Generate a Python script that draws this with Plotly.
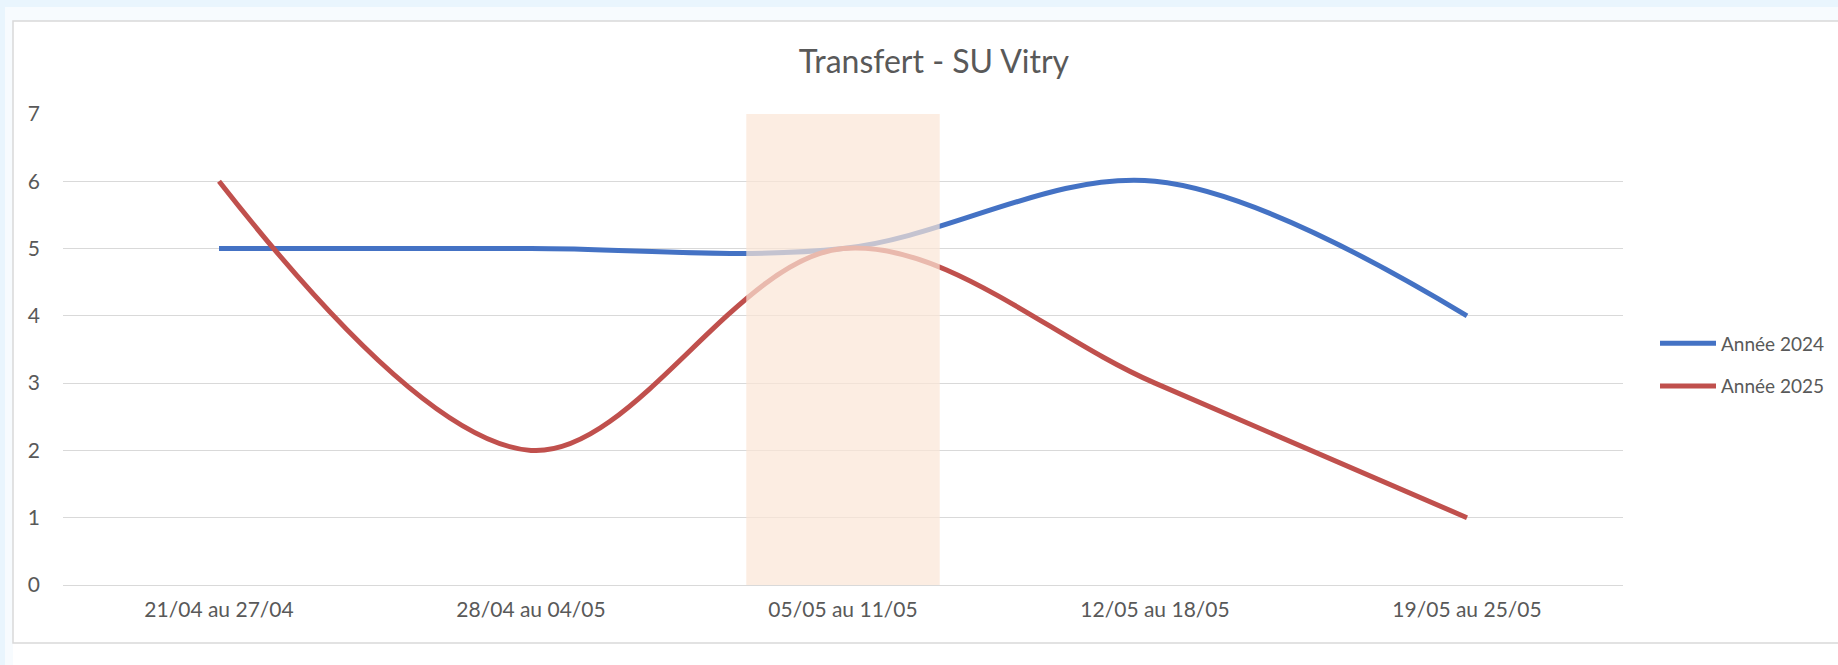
import plotly.graph_objects as go

# Weekly transfer counts
semaines = ["21/04 au 27/04", "28/04 au 04/05", "05/05 au 11/05", "12/05 au 18/05", "19/05 au 25/05"]
annee_2024 = [5, 5, 5, 6, 4]
annee_2025 = [6, 2, 5, 3, 1]

# Highlighted week span (category index units) and value axis
zone_x = [1.69, 2.31]
y_ticks = [0, 1, 2, 3, 4, 5, 6, 7]

W, H = 1838, 665
L, R, T, B = 63, 215, 114, 80
PW = W - L - R
PH = H - T - B


def px(x):
    return (x - L) / PW


def py(y):
    return (H - B - y) / PH


FONT = "Lato"
GREY = "#595959"
GRID = "#D9D9D9"

fig = go.Figure()
fig.add_trace(go.Scatter(
    x=semaines, y=annee_2024, name="Année 2024", mode="lines", legendgroup="a2024",
    line=dict(color="#4472C4", width=5, shape="spline", smoothing=1),
))
fig.add_trace(go.Scatter(
    x=semaines, y=annee_2025, name="Année 2025", mode="lines", legendgroup="a2025",
    line=dict(color="#C0504D", width=5, shape="spline", smoothing=1),
))

shapes = [
    # page background bands
    dict(type="rect", xref="paper", yref="paper", x0=px(0), x1=px(W + 5), y0=py(-5), y1=py(7),
         fillcolor="#E9F5FD", line=dict(width=0), layer="below"),
    dict(type="rect", xref="paper", yref="paper", x0=px(-5), x1=px(5), y0=py(H + 5), y1=py(0),
         fillcolor="#E9F5FD", line=dict(width=0), layer="below"),
    dict(type="rect", xref="paper", yref="paper", x0=px(5), x1=px(W + 5), y0=py(21), y1=py(7),
         fillcolor="#F7FBFE", line=dict(width=0), layer="below"),
    dict(type="rect", xref="paper", yref="paper", x0=px(5), x1=px(13), y0=py(H + 5), y1=py(7),
         fillcolor="#F7FBFE", line=dict(width=0), layer="below"),
    # chart card
    dict(type="rect", xref="paper", yref="paper", x0=px(13), x1=px(W + 10), y0=py(643), y1=py(21),
         fillcolor="white", line=dict(color=GRID, width=1.5), layer="below"),
    # highlighted week
    dict(type="rect", xref="x", yref="y", x0=zone_x[0], x1=zone_x[1], y0=-0.05, y1=7,
         fillcolor="#FBE5D6", opacity=0.7, line=dict(width=0), layer="above"),
]

fig.update_layout(
    width=W, height=H,
    margin=dict(l=L, r=R, t=T, b=B, autoexpand=False),
    paper_bgcolor="white",
    plot_bgcolor="rgba(0,0,0,0)",
    font=dict(family=FONT, color=GREY),
    title=dict(
        text="Transfert - SU Vitry",
        font=dict(family=FONT, size=32, color=GREY),
        xref="container", yref="container",
        x=934 / W, xanchor="center",
        y=1 - 62 / H, yanchor="middle",
    ),
    xaxis=dict(
        type="category",
        range=[-0.5, 4.5],
        showgrid=False, zeroline=False, showline=False,
        ticks="", tickfont=dict(family=FONT, size=21, color=GREY),
        ticklabelstandoff=10,
    ),
    yaxis=dict(
        range=[0, 7],
        tickvals=y_ticks,
        showgrid=True, gridcolor=GRID, gridwidth=1.4,
        zeroline=True, zerolinecolor=GRID, zerolinewidth=1.4,
        showline=False, ticks="",
        tickfont=dict(family=FONT, size=21, color=GREY),
        ticklabelstandoff=22,
    ),
    showlegend=True,
    legend=dict(
        x=px(1655), y=py(365), xanchor="left", yanchor="middle",
        bgcolor="rgba(0,0,0,0)",
        font=dict(family=FONT, size=19, color=GREY),
        itemwidth=56,
        traceorder="grouped",
        tracegroupgap=15,
    ),
    shapes=shapes,
)

fig.write_html("out.html")
